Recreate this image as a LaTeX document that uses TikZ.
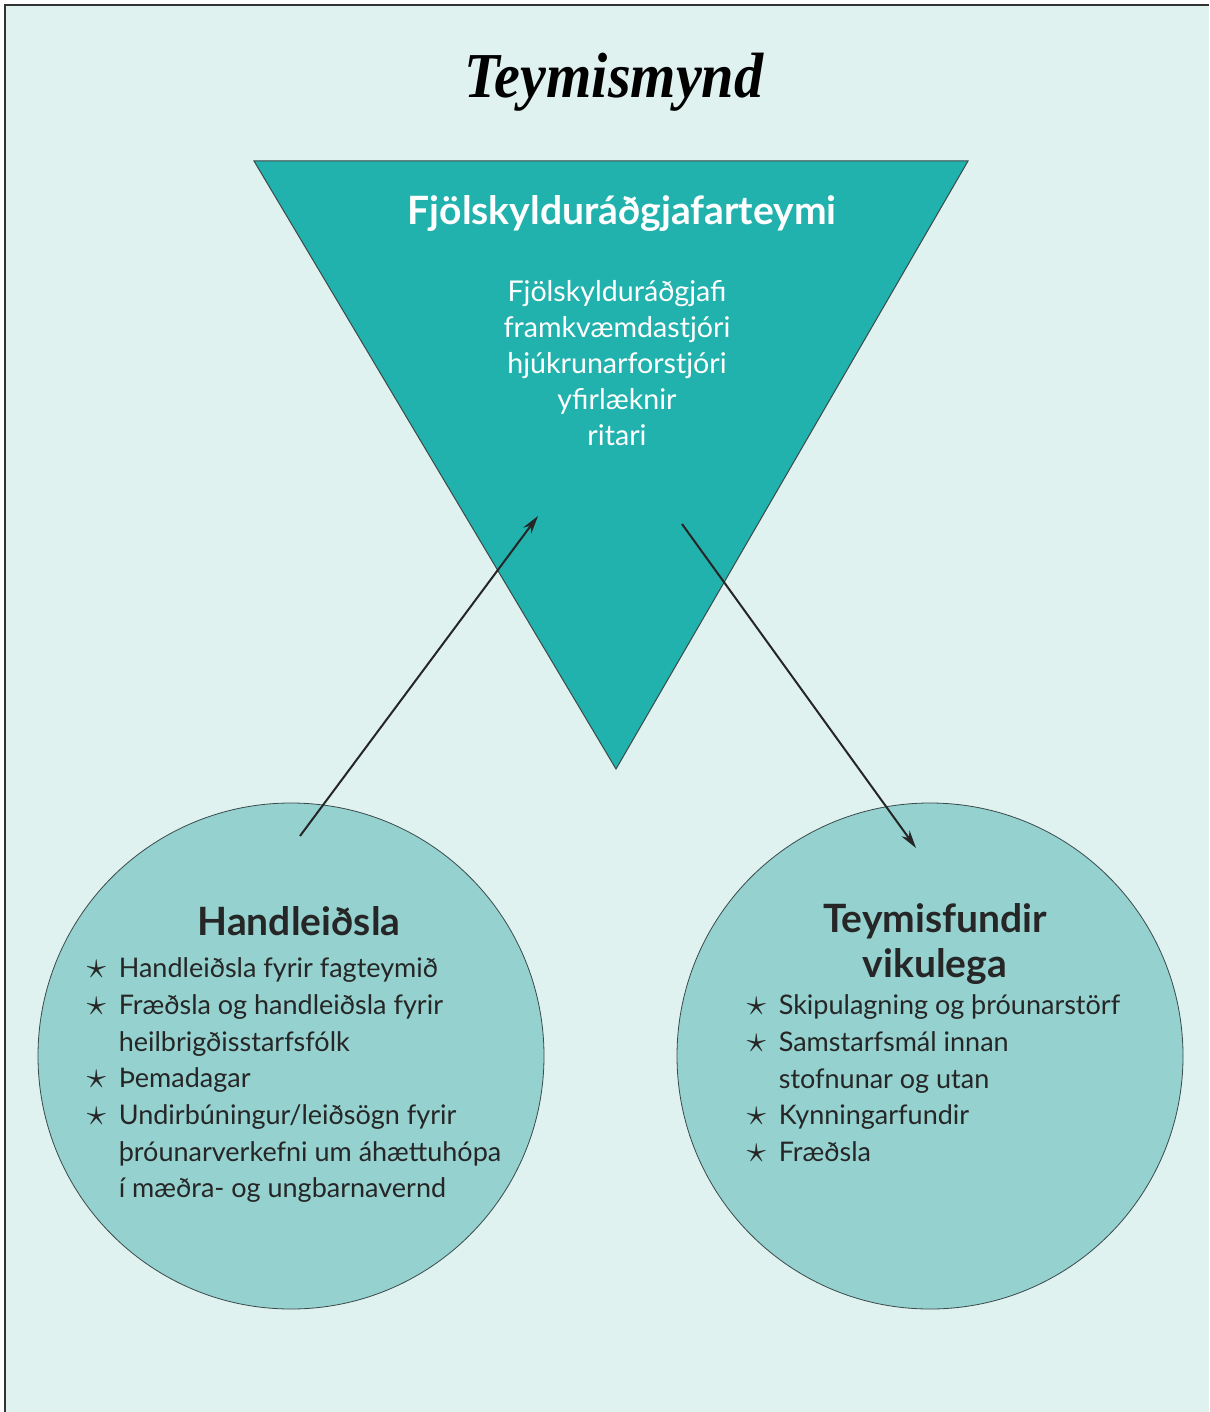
\documentclass[tikz,border=0pt]{standalone}
\usepackage{fontspec}
\setmainfont{Lato}
\newfontfamily\titlefont{Liberation Serif}
\usetikzlibrary{arrows.meta}

\definecolor{bgmint}{HTML}{E0F2F0}
\definecolor{teamteal}{HTML}{22B2AE}
\definecolor{circteal}{HTML}{94D1CF}
\definecolor{edgegray}{HTML}{3A4A4A}

\newcommand{\st}{\makebox[16pt][l]{\raisebox{-0.6pt}{\scalebox{1.35}{$\star$}}}}
\newcommand{\nost}{\hspace*{16pt}}

\begin{document}
\begin{tikzpicture}[x=0.5pt, y=-0.5pt, thick,
  circ/.style = {draw=edgegray, line width=0.4pt, fill=circteal, circle, minimum size=253pt, inner sep=0pt},
  head/.style = {font=\fontsize{19.5}{22.5}\selectfont\bfseries, text=black!85, align=center},
  items/.style = {font=\fontsize{13.5}{18.35}\selectfont, text=black!85, align=left, anchor=north west, inner sep=0pt},
  link/.style = {-{Stealth[length=9pt,width=5pt]}, line width=1pt, black!85}]

\useasboundingbox (0,0) rectangle (1209,1412);
\fill[bgmint] (5,5) rectangle (1209,1412);
\draw[line width=1.4pt, black!80] (5,1412) -- (5,5) -- (1209,5);

% title
\node[font=\titlefont\fontsize{32}{36}\selectfont\bfseries\itshape, xscale=0.91] (title) at (614,82) {Teymismynd};

% team triangle
\draw[draw=edgegray, line width=0.5pt, fill=teamteal] (254,161) -- (968,161) -- (616,769) -- cycle;
\node[font=\fontsize{19.5}{22}\selectfont\bfseries, text=white] (team) at (622,214) {Fjölskylduráðgjafarteymi};
\node[font=\fontsize{14.3}{18}\selectfont, text=white, align=center, anchor=north] (members) at (617,273)
  {Fjölskylduráðgjafi\\framkvæmdastjóri\\hjúkrunarforstjóri\\yfirlæknir\\ritari};

% circles
\node[circ] (hand) at (291,1056) {};
\node[circ] (fund) at (930,1056) {};

\node[head] (handhead) at (299,921) {Handleiðsla};
\node[items] (handlist) at (86,957) {%
  \st Handleiðsla fyrir fagteymið\\
  \st Fræðsla og handleiðsla fyrir\\
  \nost heilbrigðisstarfsfólk\\
  \st Þemadagar\\
  \st Undirbúningur/leiðsögn fyrir\\
  \nost þróunarverkefni um áhættuhópa\\
  \nost í mæðra- og ungbarnavernd};

\node[head] (fundhead) at (935,944) {Teymisfundir\\vikulega};
\node[items] (fundlist) at (746,994) {%
  \st Skipulagning og þróunarstörf\\
  \st Samstarfsmál innan\\
  \nost stofnunar og utan\\
  \st Kynningarfundir\\
  \st Fræðsla};

% arrows
\coordinate (upfrom) at (300,836);
\coordinate (upto) at (538,516);
\coordinate (downfrom) at (682,524);
\coordinate (downto) at (916,848);
\draw[link] (upfrom) -- (upto);
\draw[link] (downfrom) -- (downto);

\end{tikzpicture}
\end{document}
